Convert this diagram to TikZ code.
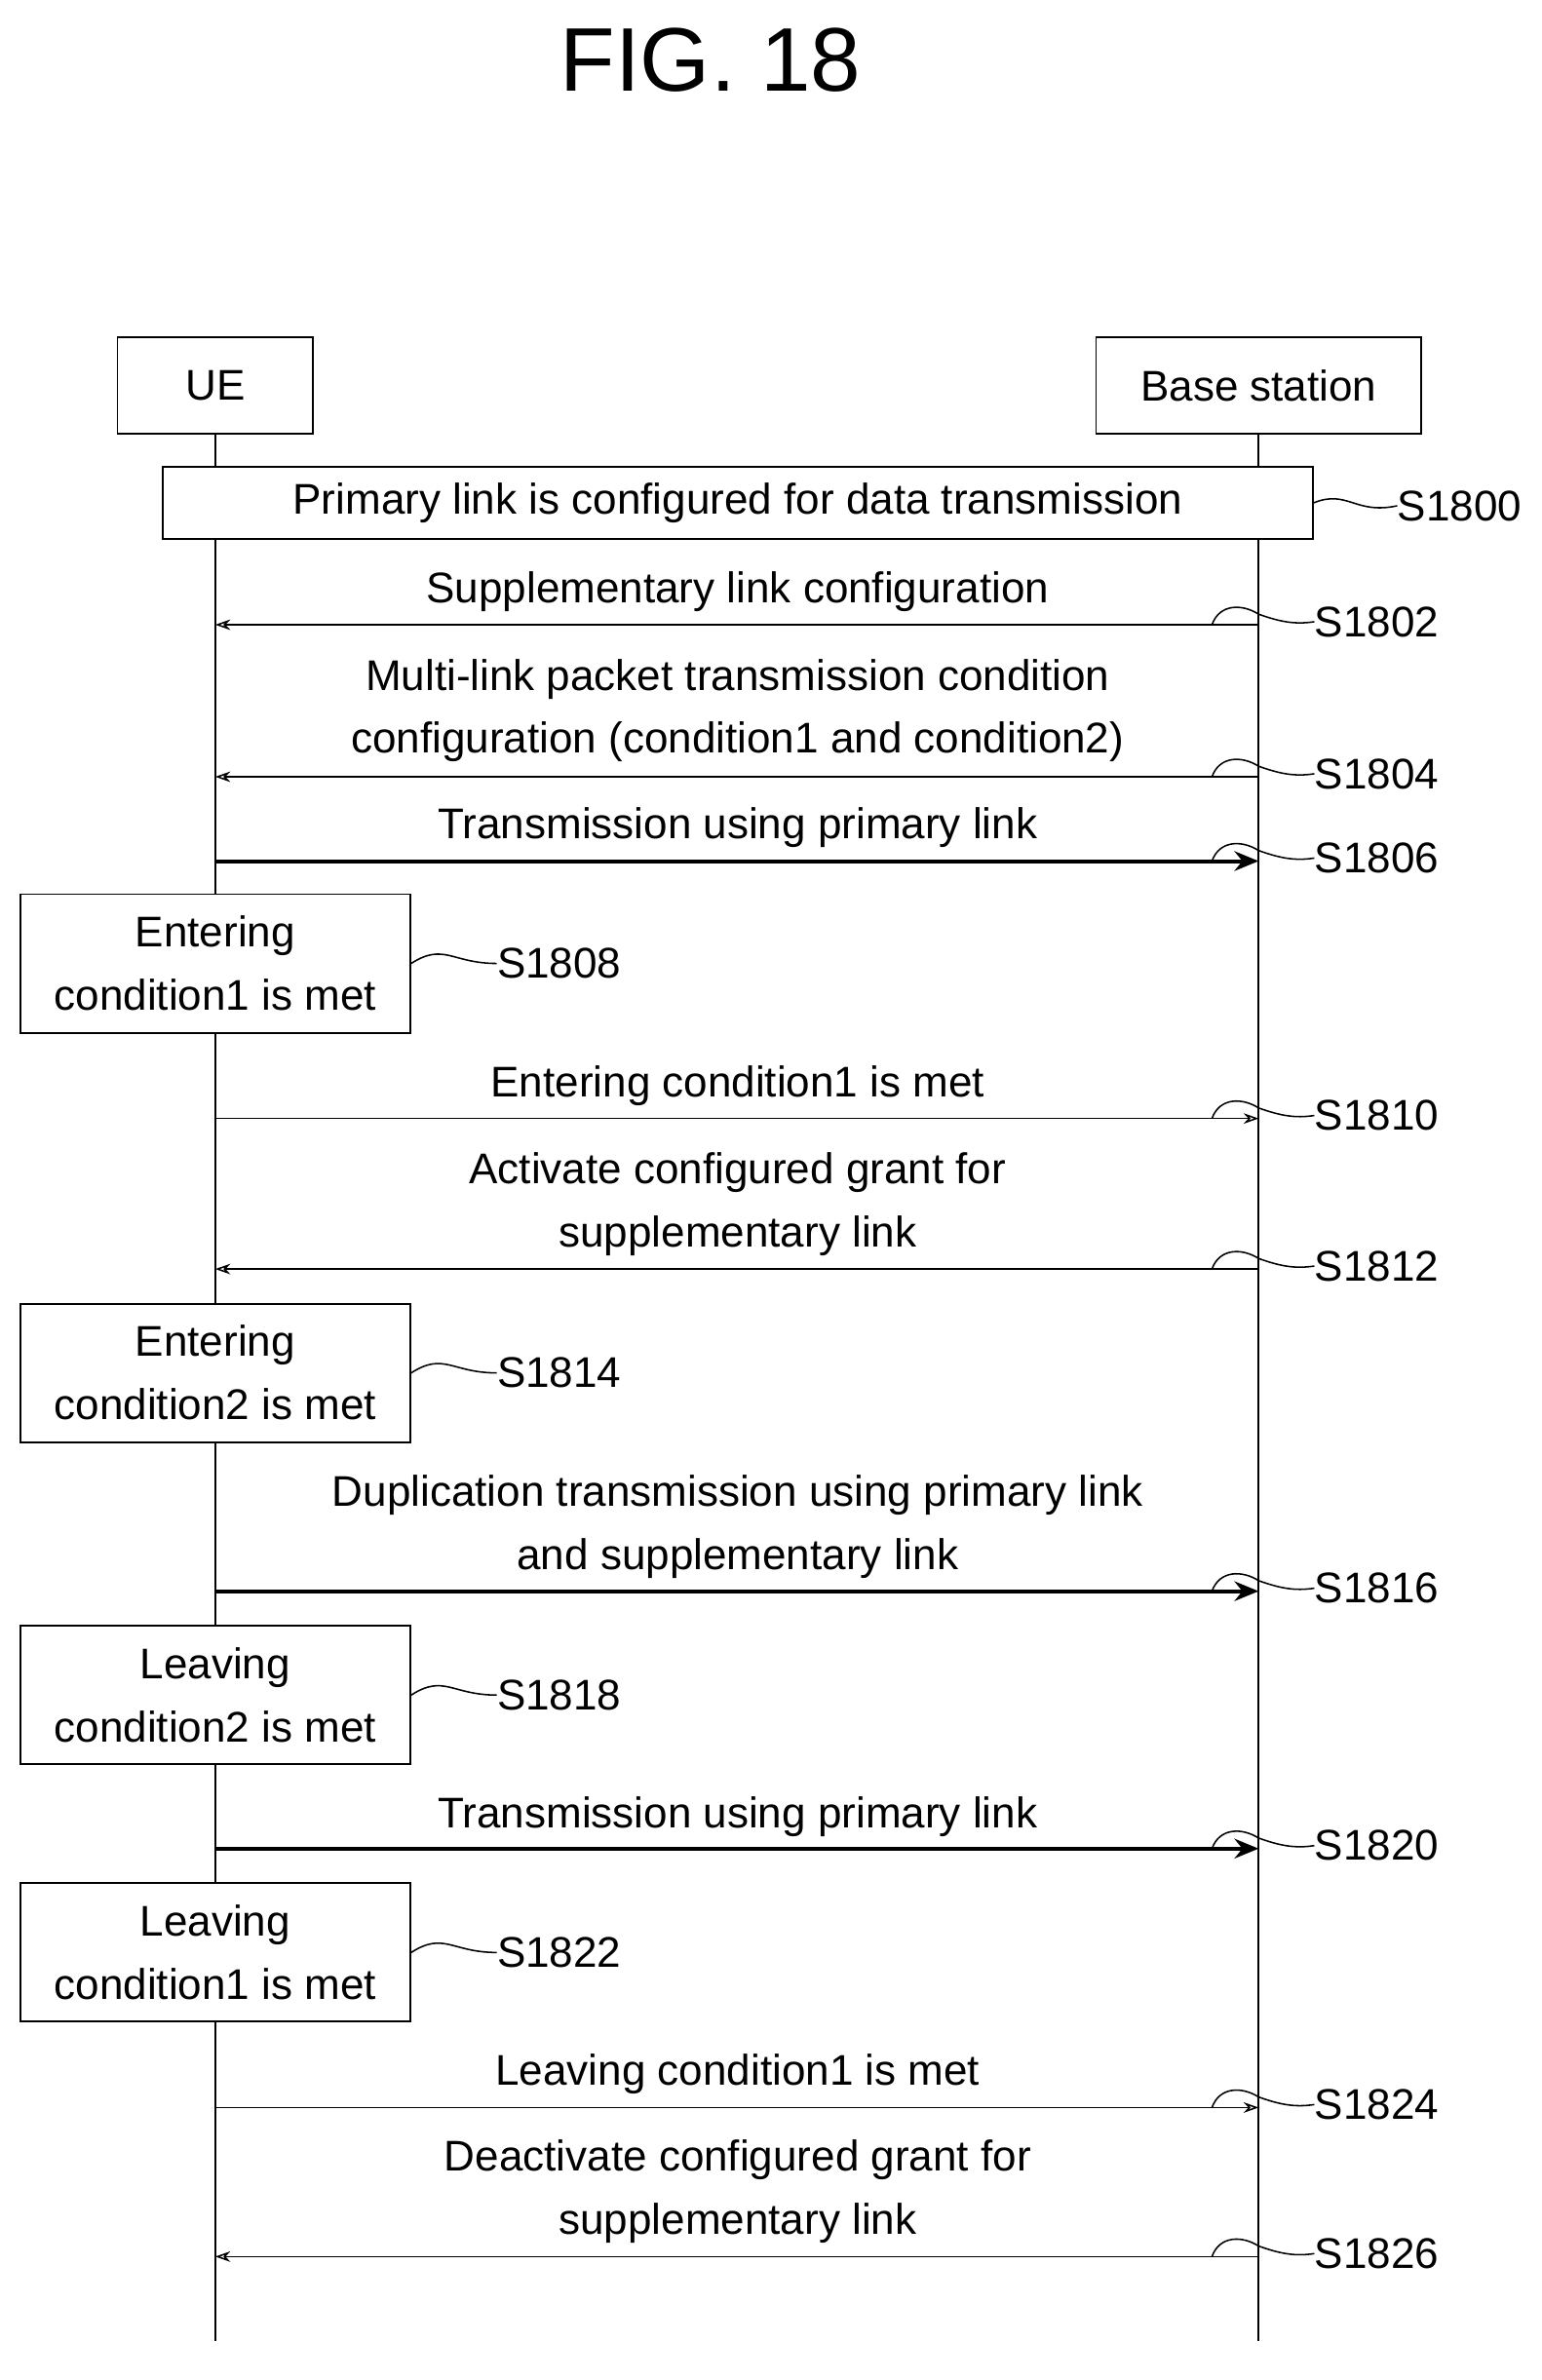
\documentclass[tikz,border=0pt]{standalone}
\usepackage{fontspec}
\setmainfont{Liberation Sans}
\usetikzlibrary{positioning,arrows.meta}

\tikzset{
  txt/.style={font=\fontsize{28.5}{42}\selectfont, align=center, inner sep=0pt},
  box/.style={draw, line width=1.2pt, txt},
  msg/.style={line width=1pt, -{Stealth[length=10pt,width=7pt,open]}},
  data/.style={line width=2.6pt, -{Stealth[length=16pt,width=13pt]}},
  lead/.style={line width=1pt}
}

\begin{document}
\begin{tikzpicture}[x=1pt,y=1pt,yscale=-1]
        \useasboundingbox (0,0) rectangle (1024,1581);

        % Title
        \node[font=\fontsize{60}{70}\selectfont] (title) at (472,40) {FIG. 18};

        % Entities
        \node[box, minimum width=130, minimum height=64] (ue) at (143,256) {UE};
        \node[box, minimum width=216, minimum height=64] (bs) at (836,256) {Base station};
        \coordinate (ueend) at (143,1555);
        \coordinate (bsend) at (836,1555);
        \draw[line width=1.5pt] (ue.south) -- (ueend);
        \draw[line width=1.5pt] (bs.south) -- (bsend);

        % Primary link box
        \node[box, fill=white, minimum width=764, minimum height=48] (prim) at (490,334) {Primary link is configured for data transmission};
        \node[txt, anchor=west] (s1800) at (928,336) {S1800};
        \draw[lead] (prim.east) .. controls (895,325) and (900,342) .. (s1800.west);

        % Condition boxes
        \foreach \name/\y/\t/\lbl in {c1808/640/Entering\\condition1 is met/S1808,
                                      c1814/912/Entering\\condition2 is met/S1814,
                                      c1818/1126/Leaving\\condition2 is met/S1818,
                                      c1822/1297/Leaving\\condition1 is met/S1822}{
          \node[box, fill=white, minimum width=259, minimum height=92] (\name) at (143,\y) {\t};
          \node[txt, anchor=west] (l\name) at (330,\y) {\lbl};
          \draw[lead] (\name.east) .. controls (295,\y-14) and (300,\y) .. (l\name.west);
        }

        % Messages
        \foreach \name/\y/\dir/\sty/\t/\ty/\lbl in {
            m1802/415/l/msg/Supplementary link configuration/393/S1802,
            m1804/516/l/msg/Multi-link packet transmission condition\\configuration (condition1 and condition2)/472/S1804,
            m1806/572/r/data/Transmission using primary link/550/S1806,
            m1810/743/r/msg/Entering condition1 is met/721/S1810,
            m1812/843/l/msg/Activate configured grant for\\supplementary link/800/S1812,
            m1816/1057/r/data/Duplication transmission using primary link\\and supplementary link/1014/S1816,
            m1820/1228/r/data/Transmission using primary link/1207/S1820,
            m1824/1400/r/msg/Leaving condition1 is met/1378/S1824,
            m1826/1499/l/msg/Deactivate configured grant for\\supplementary link/1456/S1826}{
          \coordinate (\name u) at (143,\y);
          \coordinate (\name b) at (836,\y);
          \if l\dir
            \draw[\sty] (\name b) -- (\name u);
          \else
            \draw[\sty] (\name u) -- (\name b);
          \fi
          \node[txt] (\name t) at (490,\ty) {\t};
          \node[txt, anchor=west] (\name l) at (873,\y-2) {\lbl};
          \draw[lead] (805,\y) .. controls (810,\y-14) and (825,\y-14) .. (\name b |- 0,\y-7)
                      .. controls (850,\y-2) and (860,\y) .. (\name l.west);
        }
\end{tikzpicture}
\end{document}
